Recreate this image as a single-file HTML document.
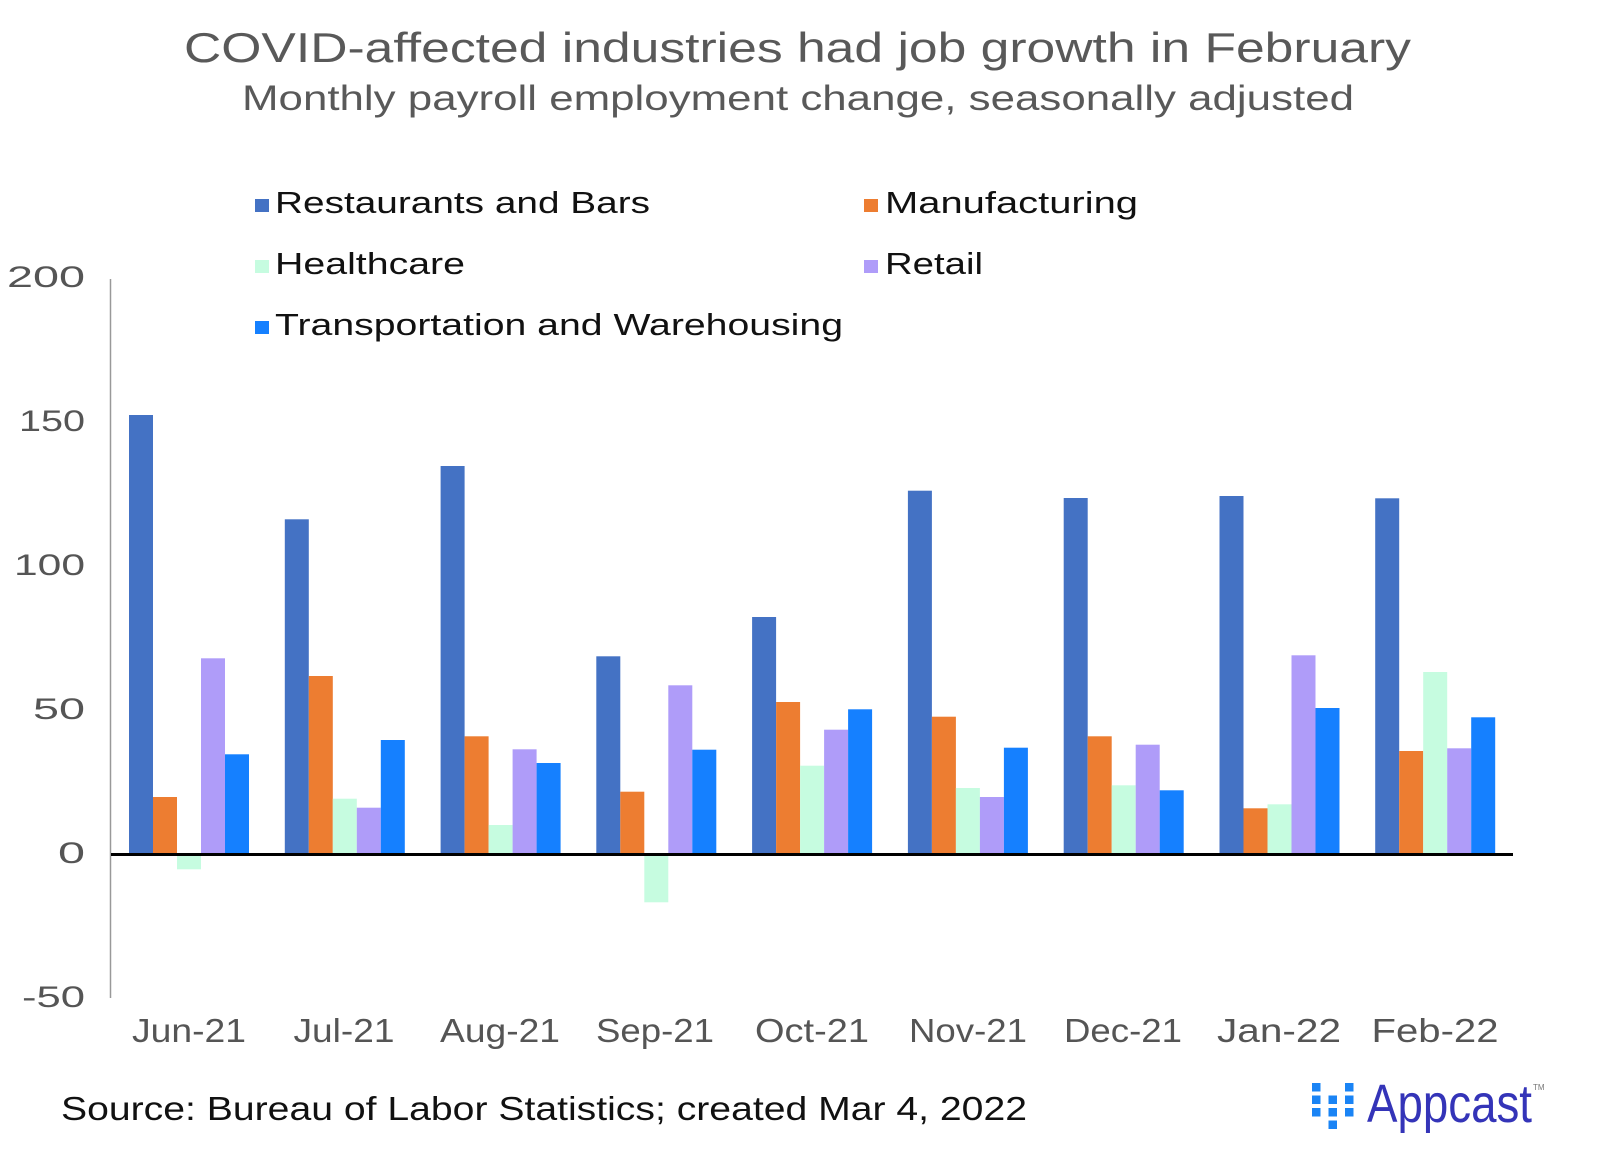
<!DOCTYPE html>
<html>
<head>
<meta charset="utf-8">
<style>
  html, body { margin: 0; padding: 0; background: #ffffff; }
  svg { display: block; }
  text { font-family: "Liberation Sans", "DejaVu Sans", sans-serif; }
</style>
</head>
<body>
<svg width="1600" height="1160" viewBox="0 0 1600 1160" xmlns="http://www.w3.org/2000/svg">
  <rect x="0" y="0" width="1600" height="1160" fill="#ffffff"/>

  <!-- Title -->
  <text x="184" y="62" font-size="42" fill="#595959" textLength="1227" lengthAdjust="spacingAndGlyphs">COVID-affected industries had job growth in February</text>
  <text x="242" y="110" font-size="35" fill="#595959" textLength="1112" lengthAdjust="spacingAndGlyphs">Monthly payroll employment change, seasonally adjusted</text>

  <!-- Legend -->
  <rect x="255" y="199" width="14" height="13" fill="#4472C4"/>
  <text x="275" y="213" font-size="31" fill="#111111" textLength="375" lengthAdjust="spacingAndGlyphs">Restaurants and Bars</text>
  <rect x="864" y="199" width="14" height="13" fill="#ED7D31"/>
  <text x="885" y="213" font-size="31" fill="#111111" textLength="253" lengthAdjust="spacingAndGlyphs">Manufacturing</text>

  <rect x="255" y="260" width="14" height="13" fill="#C6FCE0"/>
  <text x="275" y="274" font-size="31" fill="#111111" textLength="190" lengthAdjust="spacingAndGlyphs">Healthcare</text>
  <rect x="864" y="260" width="14" height="13" fill="#AF9CF9"/>
  <text x="885" y="274" font-size="31" fill="#111111" textLength="98" lengthAdjust="spacingAndGlyphs">Retail</text>

  <rect x="255" y="321" width="14" height="13" fill="#1580FF"/>
  <text x="275" y="335" font-size="31" fill="#111111" textLength="568" lengthAdjust="spacingAndGlyphs">Transportation and Warehousing</text>

  <!-- Y axis line -->
  <line x1="110.5" y1="279" x2="110.5" y2="998" stroke="#999999" stroke-width="1.5"/>

  <!-- Y tick labels -->
  <g font-size="30" fill="#555555" text-anchor="end">
    <text x="85" y="287" textLength="78" lengthAdjust="spacingAndGlyphs">200</text>
    <text x="85" y="431" textLength="66" lengthAdjust="spacingAndGlyphs">150</text>
    <text x="85" y="575" textLength="71" lengthAdjust="spacingAndGlyphs">100</text>
    <text x="85" y="719" textLength="52" lengthAdjust="spacingAndGlyphs">50</text>
    <text x="85" y="863" textLength="27" lengthAdjust="spacingAndGlyphs">0</text>
    <text x="85" y="1007" textLength="63" lengthAdjust="spacingAndGlyphs">-50</text>
  </g>

  <!-- Bars -->
  <!-- Jun-21 -->
  <rect x="129" y="415" width="24" height="438" fill="#4472C4"/>
  <rect x="153" y="797" width="24" height="56" fill="#ED7D31"/>
  <rect x="177" y="853" width="24" height="16.3" fill="#C6FCE0"/>
  <rect x="201" y="658.3" width="24" height="194.7" fill="#AF9CF9"/>
  <rect x="225" y="754.3" width="24" height="98.7" fill="#1580FF"/>
  <!-- Jul-21 -->
  <rect x="284.8" y="519.3" width="24" height="333.7" fill="#4472C4"/>
  <rect x="308.8" y="676" width="24" height="177" fill="#ED7D31"/>
  <rect x="332.8" y="798.7" width="24" height="54.3" fill="#C6FCE0"/>
  <rect x="356.8" y="807.7" width="24" height="45.3" fill="#AF9CF9"/>
  <rect x="380.8" y="740" width="24" height="113" fill="#1580FF"/>
  <!-- Aug-21 -->
  <rect x="440.6" y="466" width="24" height="387" fill="#4472C4"/>
  <rect x="464.6" y="736.3" width="24" height="116.7" fill="#ED7D31"/>
  <rect x="488.6" y="825" width="24" height="28" fill="#C6FCE0"/>
  <rect x="512.6" y="749.3" width="24" height="103.7" fill="#AF9CF9"/>
  <rect x="536.6" y="763" width="24" height="90" fill="#1580FF"/>
  <!-- Sep-21 -->
  <rect x="596.3" y="656.3" width="24" height="196.7" fill="#4472C4"/>
  <rect x="620.3" y="791.7" width="24" height="61.3" fill="#ED7D31"/>
  <rect x="644.3" y="853" width="24" height="49.3" fill="#C6FCE0"/>
  <rect x="668.3" y="685.3" width="24" height="167.7" fill="#AF9CF9"/>
  <rect x="692.3" y="749.7" width="24" height="103.3" fill="#1580FF"/>
  <!-- Oct-21 -->
  <rect x="752.1" y="617" width="24" height="236" fill="#4472C4"/>
  <rect x="776.1" y="702" width="24" height="151" fill="#ED7D31"/>
  <rect x="800.1" y="765.7" width="24" height="87.3" fill="#C6FCE0"/>
  <rect x="824.1" y="729.7" width="24" height="123.3" fill="#AF9CF9"/>
  <rect x="848.1" y="709.3" width="24" height="143.7" fill="#1580FF"/>
  <!-- Nov-21 -->
  <rect x="907.9" y="490.7" width="24" height="362.3" fill="#4472C4"/>
  <rect x="931.9" y="716.7" width="24" height="136.3" fill="#ED7D31"/>
  <rect x="955.9" y="788" width="24" height="65" fill="#C6FCE0"/>
  <rect x="979.9" y="797" width="24" height="56" fill="#AF9CF9"/>
  <rect x="1003.9" y="747.7" width="24" height="105.3" fill="#1580FF"/>
  <!-- Dec-21 -->
  <rect x="1063.7" y="498" width="24" height="355" fill="#4472C4"/>
  <rect x="1087.7" y="736.3" width="24" height="116.7" fill="#ED7D31"/>
  <rect x="1111.7" y="785.3" width="24" height="67.7" fill="#C6FCE0"/>
  <rect x="1135.7" y="744.7" width="24" height="108.3" fill="#AF9CF9"/>
  <rect x="1159.7" y="790.3" width="24" height="62.7" fill="#1580FF"/>
  <!-- Jan-22 -->
  <rect x="1219.5" y="496" width="24" height="357" fill="#4472C4"/>
  <rect x="1243.5" y="808.3" width="24" height="44.7" fill="#ED7D31"/>
  <rect x="1267.5" y="804.3" width="24" height="48.7" fill="#C6FCE0"/>
  <rect x="1291.5" y="655.3" width="24" height="197.7" fill="#AF9CF9"/>
  <rect x="1315.5" y="708" width="24" height="145" fill="#1580FF"/>
  <!-- Feb-22 -->
  <rect x="1375.2" y="498.3" width="24" height="354.7" fill="#4472C4"/>
  <rect x="1399.2" y="751" width="24" height="102" fill="#ED7D31"/>
  <rect x="1423.2" y="672" width="24" height="181" fill="#C6FCE0"/>
  <rect x="1447.2" y="748.3" width="24" height="104.7" fill="#AF9CF9"/>
  <rect x="1471.2" y="717.3" width="24" height="135.7" fill="#1580FF"/>

  <!-- Zero line -->
  <rect x="111" y="853" width="1402" height="3" fill="#000000"/>

  <!-- X labels -->
  <g font-size="33" fill="#555555" text-anchor="middle">
    <text x="189" y="1042" textLength="114" lengthAdjust="spacingAndGlyphs">Jun-21</text>
    <text x="344" y="1042" textLength="101" lengthAdjust="spacingAndGlyphs">Jul-21</text>
    <text x="500" y="1042" textLength="120" lengthAdjust="spacingAndGlyphs">Aug-21</text>
    <text x="655" y="1042" textLength="118" lengthAdjust="spacingAndGlyphs">Sep-21</text>
    <text x="812" y="1042" textLength="114" lengthAdjust="spacingAndGlyphs">Oct-21</text>
    <text x="968" y="1042" textLength="118" lengthAdjust="spacingAndGlyphs">Nov-21</text>
    <text x="1123" y="1042" textLength="118" lengthAdjust="spacingAndGlyphs">Dec-21</text>
    <text x="1279" y="1042" textLength="124" lengthAdjust="spacingAndGlyphs">Jan-22</text>
    <text x="1435" y="1042" textLength="127" lengthAdjust="spacingAndGlyphs">Feb-22</text>
  </g>

  <!-- Source -->
  <text x="61" y="1120" font-size="33" fill="#111111" textLength="966" lengthAdjust="spacingAndGlyphs">Source: Bureau of Labor Statistics; created Mar 4, 2022</text>

  <!-- Appcast logo -->
  <g fill="#1A84F5">
    <rect x="1312" y="1083" width="8.5" height="8.5"/>
    <rect x="1312" y="1095.5" width="8.5" height="8.5"/>
    <rect x="1312" y="1108" width="8.5" height="8.5"/>
    <rect x="1328.5" y="1095.5" width="8.5" height="8.5"/>
    <rect x="1328.5" y="1108" width="8.5" height="8.5"/>
    <rect x="1328.5" y="1120.5" width="8.5" height="8.5"/>
    <rect x="1345" y="1083" width="8.5" height="8.5"/>
    <rect x="1345" y="1095.5" width="8.5" height="8.5"/>
    <rect x="1345" y="1108" width="8.5" height="8.5"/>
  </g>
  <text x="1367" y="1122" font-size="54" fill="#3434B8" textLength="165" lengthAdjust="spacingAndGlyphs">Appcast</text>
  <text x="1533" y="1090" font-size="8" fill="#777777">TM</text>
</svg>
</body>
</html>
